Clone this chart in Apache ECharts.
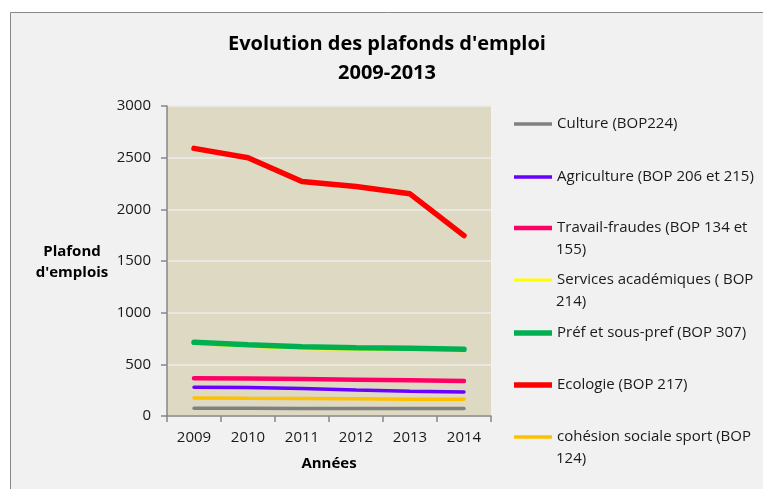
<!DOCTYPE html>
<html><head><meta charset="utf-8">
<script src="https://cdn.jsdelivr.net/npm/echarts@6/dist/echarts.min.js"></script>
<style>html,body{margin:0;padding:0;background:#fff}#c{width:763px;height:489px}</style>
</head><body><div id="c"></div>
<script>
const years = ['2009','2010','2011','2012','2013','2014'];
const culture = [75, 74, 73, 72, 72, 72];
const agriculture = [278, 275, 265, 252, 240, 232];
const travail = [365, 362, 358, 352, 345, 338];
const services = [700, 675, 650, 645, 640, 632];
const prefecture = [713, 690, 671, 661, 655, 645];
const ecologie = [2590, 2500, 2270, 2220, 2150, 1745];
const cohesion = [175, 172, 170, 167, 163, 161];
const yTicks = [0, 500, 1000, 1500, 2000, 2500, 3000];

const FONT = 'Open Sans';
const FS = 15;
const seriesDefs = [
  {name:'Culture (BOP224)', data:culture, color:'#808080', w:3.5, label:'Culture (BOP224)', cy:124},
  {name:'Agriculture (BOP 206 et 215)', data:agriculture, color:'#6a00ff', w:3.5, label:'Agriculture (BOP 206 et 215)', cy:177},
  {name:'Travail-fraudes (BOP 134 et 155)', data:travail, color:'#ff0066', w:4.5, label:'Travail-fraudes (BOP 134 et', second:'155)', cy:228},
  {name:'Services académiques ( BOP 214)', data:services, color:'#ffff00', w:3, label:'Services académiques ( BOP', second:'214)', cy:280},
  {name:'Préf et sous-pref (BOP 307)', data:prefecture, color:'#00b050', w:5.5, label:'Préf et sous-pref (BOP 307)', cy:333},
  {name:'Ecologie (BOP 217)', data:ecologie, color:'#ff0000', w:5.5, label:'Ecologie (BOP 217)', cy:385},
  {name:'cohésion sociale sport (BOP 124)', data:cohesion, color:'#ffc000', w:3.5, label:'cohésion sociale sport (BOP', second:'124)', cy:437}
];

const legends = seriesDefs.map(d => ({
  data:[d.name], left:514, top:d.cy - 10, orient:'vertical', padding:0,
  icon:'rect', itemWidth:38, itemHeight:d.w, itemGap:0,
  formatter:() => d.label,
  textStyle:{fontFamily:FONT, fontSize:FS, lineHeight:20, color:'#1a1a1a'},
  selectedMode:false
}));

const graphics = [
  {type:'rect', shape:{x:10.5, y:12.5, width:770, height:500}, style:{fill:'#f1f1f1', stroke:'#888', lineWidth:1}, z:-10, silent:true},
  {type:'text', x:72, y:241, style:{text:"Plafond\nd'emplois", font:'bold ' + FS + 'px "Open Sans"', fill:'#000', lineHeight:21, align:'center'}}
];
seriesDefs.forEach(d => {
  if (d.second) graphics.push({type:'text', x:556, y:d.cy + 22 - 10, style:{text:d.second, font:FS + 'px "Open Sans"', fill:'#1a1a1a', lineHeight:20}});
});

const chart = echarts.init(document.getElementById('c'));
chart.setOption({
  backgroundColor:'#ffffff',
  animation:false,
  graphic:graphics,
  title:{text:"Evolution des plafonds d'emploi\n2009-2013", left:382, textAlign:'center', top:25,
    textStyle:{fontFamily:FONT, fontWeight:'bold', fontSize:20, lineHeight:29, color:'#000'}},
  legend:legends,
  grid:{left:167, right:272, top:106, bottom:73, show:true, backgroundColor:'#ddd9c3', borderWidth:0},
  xAxis:{type:'category', data:years, boundaryGap:true, name:'Années', nameLocation:'middle', nameGap:40,
    nameTextStyle:{fontFamily:FONT, fontWeight:'bold', fontSize:FS, color:'#000'},
    axisLine:{lineStyle:{color:'#868686', width:1.5}}, axisTick:{show:true, length:6, lineStyle:{color:'#868686', width:1.5}},
    axisLabel:{fontFamily:FONT, fontSize:FS, color:'#1a1a1a', margin:14}},
  yAxis:{type:'value', min:0, max:3000, interval:500,
    axisLine:{show:true, lineStyle:{color:'#868686', width:1.5}}, axisTick:{show:true, length:6, lineStyle:{color:'#868686', width:1.5}},
    axisLabel:{fontFamily:FONT, fontSize:FS, color:'#1a1a1a', margin:16, formatter:v => yTicks.includes(v) ? String(v) : ''},
    splitLine:{lineStyle:{color:'#ebebeb', width:1.5}}},
  series:seriesDefs.map(d => ({name:d.name, type:'line', data:d.data, symbol:'none', color:d.color,
    lineStyle:{color:d.color, width:d.w, cap:'round'}, z: d.name.startsWith('Services') ? 1 : 2}))
});
</script></body></html>
